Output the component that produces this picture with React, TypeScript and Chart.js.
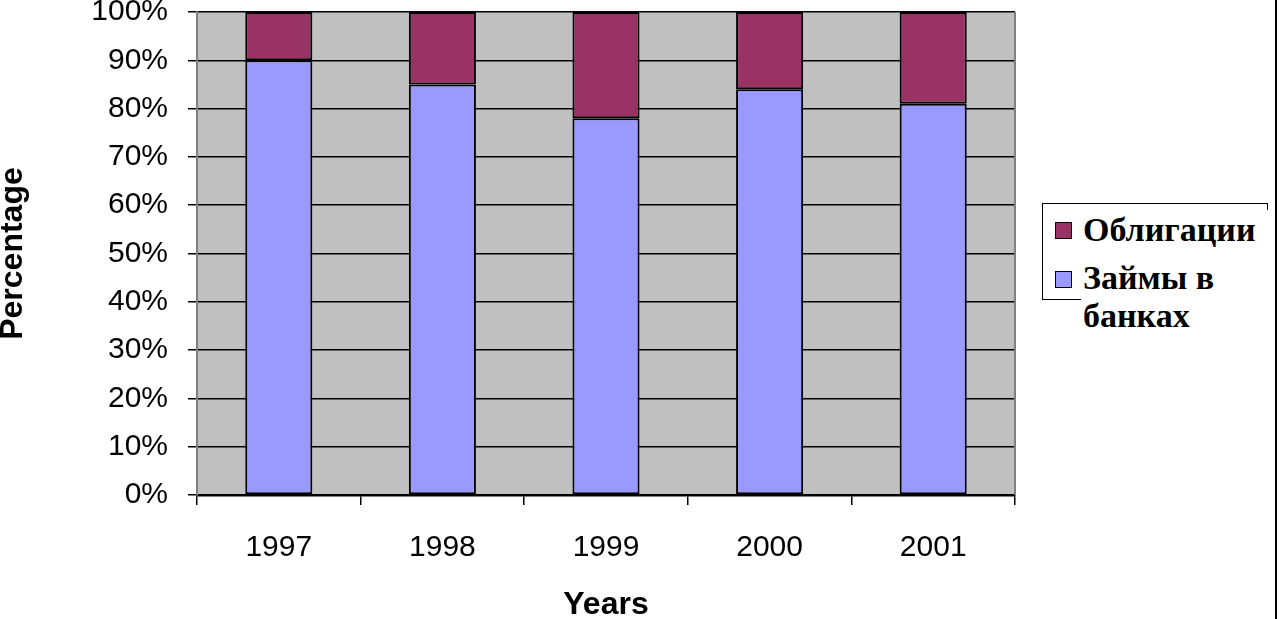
import { useEffect, useRef } from 'react';
import { Chart, registerables, Plugin } from 'chart.js';

Chart.register(...registerables);

const years = ['1997', '1998', '1999', '2000', '2001'];
const loans = [90, 85, 78, 84, 81];
const bonds = [10, 15, 22, 16, 19];
const yTicks = [0, 10, 20, 30, 40, 50, 60, 70, 80, 90, 100];

const LOAN_COLOR = '#9999FF';
const BOND_COLOR = '#993366';

const plotFrame: Plugin<'bar'> = {
  id: 'plotFrame',
  beforeDraw(chart) {
    const { ctx, chartArea: a } = chart;
    ctx.save();
    ctx.fillStyle = '#C0C0C0';
    ctx.fillRect(a.left, a.top, a.right - a.left, a.bottom - a.top);
    ctx.restore();
  },
  beforeDatasetsDraw(chart) {
    const { ctx, chartArea: a } = chart;
    ctx.save();
    ctx.strokeStyle = '#808080';
    ctx.lineWidth = 2;
    ctx.beginPath();
    ctx.moveTo(a.right, a.top);
    ctx.lineTo(a.right, a.bottom);
    ctx.stroke();
    ctx.restore();
  },
};

function StackChart() {
  const canvasRef = useRef<HTMLCanvasElement>(null);

  useEffect(() => {
    if (!canvasRef.current) return;
    const chart = new Chart(canvasRef.current, {
      type: 'bar',
      data: {
        labels: years,
        datasets: [
          {
            label: 'Займы в банках',
            data: loans,
            backgroundColor: LOAN_COLOR,
            borderColor: '#000000',
            borderWidth: 2,
            borderSkipped: false,
          },
          {
            label: 'Облигации',
            data: bonds,
            backgroundColor: BOND_COLOR,
            borderColor: '#000000',
            borderWidth: 2,
            borderSkipped: false,
          },
        ],
      },
      options: {
        animation: false,
        responsive: true,
        maintainAspectRatio: false,
        layout: { padding: { top: 12, right: 267, left: 0, bottom: 16 } },
        datasets: { bar: { categoryPercentage: 1, barPercentage: 0.41 } },
        plugins: { legend: { display: false }, tooltip: { enabled: false } },
        scales: {
          x: {
            stacked: true,
            offset: true,
            grid: {
              offset: true,
              drawOnChartArea: false,
              drawTicks: true,
              tickLength: 10,
              color: '#000000',
              lineWidth: 1.5,
            },
            border: { color: '#000000', width: 2.5 },
            ticks: {
              color: '#000000',
              padding: 25,
              font: { family: '"Liberation Sans", Arial, sans-serif', size: 30 },
            },
            title: {
              display: true,
              text: 'Years',
              color: '#000000',
              padding: 0,
              font: { family: '"Liberation Sans", Arial, sans-serif', size: 32, weight: 'bold' },
            },
            afterFit: (s) => {
              s.height = 129;
            },
          },
          y: {
            stacked: true,
            min: 0,
            max: 100,
            afterBuildTicks: (s) => {
              s.ticks = yTicks.map((v) => ({ value: v }));
            },
            grid: {
              color: '#000000',
              lineWidth: 1.5,
              drawTicks: true,
              tickLength: 9,
            },
            border: { color: '#808080', width: 2 },
            ticks: {
              color: '#000000',
              padding: 20,
              font: { family: '"Liberation Sans", Arial, sans-serif', size: 30 },
              callback: (v) => `${v}%`,
            },
            title: {
              display: true,
              text: 'Percentage',
              color: '#000000',
              padding: { top: 0, bottom: 0 },
              font: {
                family: '"Liberation Sans", Arial, sans-serif',
                size: 32,
                weight: 'bold',
                lineHeight: 0.85,
              },
            },
            afterFit: (s) => {
              s.width = 197;
              s.paddingTop = 0;
              s.paddingBottom = 0;
            },
          },
        },
      },
      plugins: [plotFrame],
    });
    return () => chart.destroy();
  }, []);

  return (
    <div style={{ position: 'absolute', left: 0, top: 0, width: 1282, height: 640 }}>
      <canvas ref={canvasRef} />
    </div>
  );
}

function Legend() {
  const text: React.CSSProperties = {
    fontFamily: '"Liberation Serif", "Times New Roman", serif',
    fontWeight: 'bold',
    fontSize: 34,
    color: '#000000',
    whiteSpace: 'nowrap',
  };
  const marker = (c: string): React.CSSProperties => ({
    position: 'absolute',
    left: 12,
    width: 17,
    height: 17,
    background: c,
    border: '1.5px solid #000000',
    boxSizing: 'border-box',
  });
  return (
    <div
      style={{
        position: 'absolute',
        left: 1042,
        top: 203,
        width: 226,
        height: 97,
        border: '1.5px solid #000000',
        boxSizing: 'border-box',
      }}
    >
      <span style={{ ...marker(BOND_COLOR), top: 18 }} />
      <span style={{ ...marker(LOAN_COLOR), top: 67 }} />
      <div
        style={{
          position: 'absolute',
          left: 38,
          top: 6,
          width: 195,
          height: 130,
          background: '#ffffff',
        }}
      >
        <div style={{ ...text, position: 'absolute', left: 2, top: 0, lineHeight: '40px' }}>Облигации</div>
        <div style={{ ...text, position: 'absolute', left: 2, top: 48, lineHeight: '40px' }}>Займы в</div>
        <div style={{ ...text, position: 'absolute', left: 2, top: 86, lineHeight: '40px' }}>банках</div>
      </div>
    </div>
  );
}

export default function App() {
  return (
    <div
      style={{
        position: 'absolute',
        left: 0,
        top: 0,
        width: 1282,
        height: 619,
        overflow: 'hidden',
        background: '#ffffff',
      }}
    >
      <StackChart />
      <Legend />
      <div style={{ position: 'absolute', left: 1275, top: 0, width: 2, height: 619, background: '#000000' }} />
    </div>
  );
}
